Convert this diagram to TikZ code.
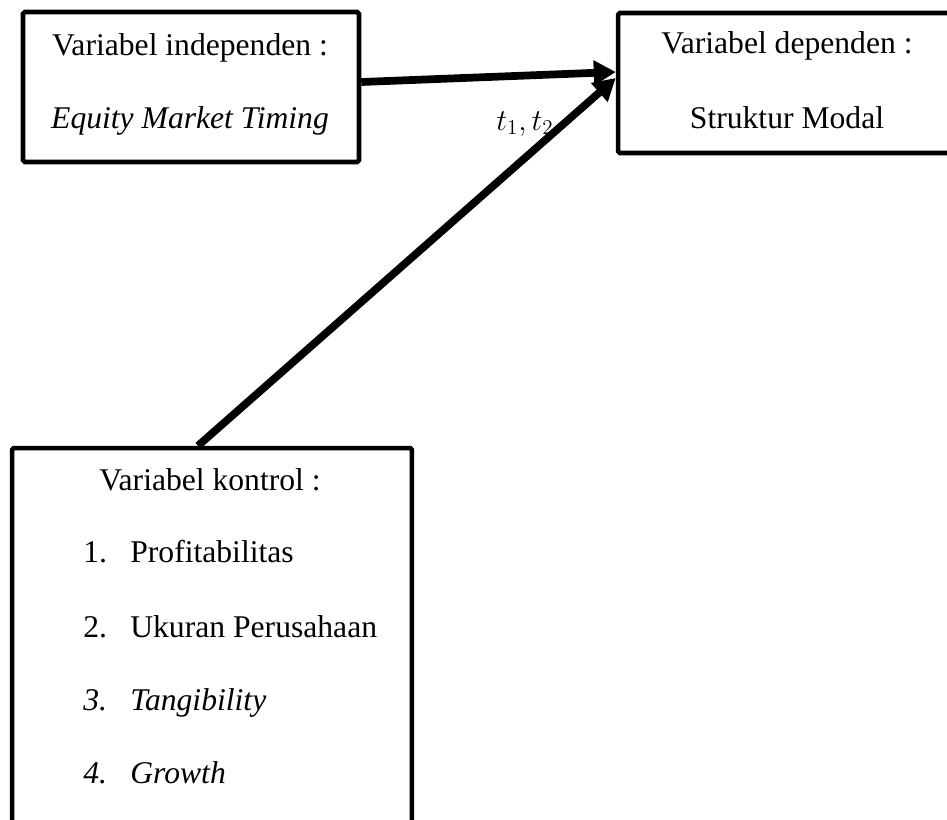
\documentclass[tikz,border=0pt]{standalone}
\usepackage{fontspec}
\setmainfont{Liberation Serif}
\usetikzlibrary{arrows.meta}

\begin{document}
\begin{tikzpicture}[
            x=0.02cm, y=-0.02cm,
            varbox/.style={rectangle, draw, line width=2.6pt, rounded corners=1pt, inner sep=0pt},
            txt/.style={font=\fontsize{18}{22}\selectfont, anchor=base, inner sep=0pt},
            itm/.style={font=\fontsize{18}{22}\selectfont, anchor=base west, inner sep=0pt},
            link/.style={line width=4.4pt, -{Triangle[length=0.44cm, width=0.48cm]}},
        ]
            \useasboundingbox (0,0) rectangle (947,819);

            % independent variable
            \node[varbox, minimum width=6.72cm, minimum height=3.0cm] (indep) at (191,87) {};
            \node[txt] (indepa) at (190,55) {Variabel independen :};
            \node[txt] (indepb) at (190,128) {\itshape Equity Market Timing};

            % dependent variable
            \node[varbox, minimum width=7.44cm, minimum height=2.8cm] (dep) at (804,83) {};
            \node[txt] (depa) at (787,53) {Variabel dependen :};
            \node[txt] (depb) at (787,128) {Struktur Modal};

            % control variables
            \node[varbox, minimum width=8.0cm, minimum height=8.64cm] (ctrl) at (212,664) {};
            \node[txt] (ctrla) at (210,490) {Variabel kontrol :};
            \node[itm] (n1) at (83,562) {1.};
            \node[itm] (c1) at (130,562) {Profitabilitas};
            \node[itm] (n2) at (83,637) {2.};
            \node[itm] (c2) at (130,637) {Ukuran Perusahaan};
            \node[itm] (n3) at (83,710) {\itshape 3.};
            \node[itm] (c3) at (130,710) {\itshape Tangibility};
            \node[itm] (n4) at (83,783) {\itshape 4.};
            \node[itm] (c4) at (130,783) {\itshape Growth};

            % arrows
            \draw[link] ([yshift=0.1cm]indep.east) -- ([yshift=0.22cm]dep.west);
            \draw[link] ([xshift=-0.28cm]ctrl.north) -- ([yshift=0.1cm]dep.west);
            \node[txt] (lag) at (525,130) {$t_1, t_2$};
        \end{tikzpicture}
\end{document}
